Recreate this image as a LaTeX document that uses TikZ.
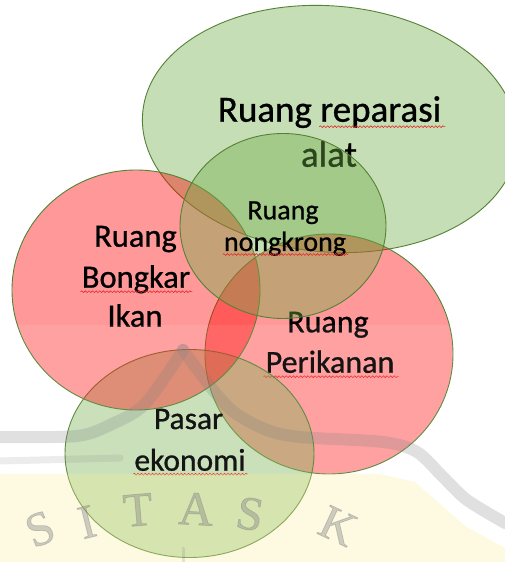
\documentclass[tikz,border=0pt]{standalone}
\usepackage{fontspec}
\setmainfont{Carlito}[FakeBold=0.8]
\newfontfamily\wmfont{Liberation Serif}[FakeBold=1.5]
\usetikzlibrary{shapes.geometric,decorations.pathmorphing}
\definecolor{gfill}{RGB}{112,173,71}
\definecolor{rfill}{RGB}{255,0,0}
\definecolor{edgecol}{RGB}{84,130,53}
\definecolor{squig}{RGB}{230,40,40}
\definecolor{wmgray}{RGB}{128,128,128}
\definecolor{wmyel}{RGB}{250,240,150}
\begin{document}
\begin{tikzpicture}[x=1pt,y=1pt,
  zone/.style={ellipse, draw=edgecol, line width=0.9pt, fill opacity=0.4, inner sep=0pt, outer sep=0pt},
  greenzone/.style={zone, fill=gfill},
  redzone/.style={zone, fill=rfill},
  lbl/.style={anchor=base, inner sep=0pt, text=black},
  squiggle/.style={draw=squig, line width=0.6pt, decorate, decoration={snake, amplitude=0.9pt, segment length=3.6pt}},
  wmband/.style={draw=wmgray, draw opacity=0.24, line cap=round, line join=round},
  wmletter/.style={text=wmgray, text opacity=0.38, font=\wmfont\fontsize{48}{52}\selectfont, inner sep=0pt}
]
\path[fill=white] (0,0) rectangle (505,562);
\useasboundingbox (0,0) rectangle (505,562);

% Ruang reparasi alat
\node[greenzone, minimum width=376pt, minimum height=246pt, rotate=-5] (rep) at (330,433) {};
\node[lbl, font=\fontsize{37}{44}\selectfont] (repA) at (329.5,440.3) {Ruang reparasi};
\node[lbl, font=\fontsize{37}{44}\selectfont] (repB) at (329,395.3) {alat};
\draw[squiggle] ([shift={(-122pt,-5pt)}]repA.base east) -- ([shift={(4pt,-5pt)}]repA.base east);

% Ruang Perikanan
\node[redzone, minimum width=248pt, minimum height=240pt] (per) at (329,208) {};
\node[lbl, font=\fontsize{32}{38}\selectfont] (perA) at (328,229.7) {Ruang};
\node[lbl, font=\fontsize{32}{38}\selectfont] (perB) at (330,189.3) {Perikanan};
\draw[squiggle] ([shift={(-2pt,-4pt)}]perB.base west) -- ([shift={(4pt,-4pt)}]perB.base east);

% Pasar ekonomi
\node[greenzone, minimum width=249pt, minimum height=208pt] (pas) at (189.5,108.5) {};
\node[lbl, font=\fontsize{31.5}{38}\selectfont] (pasA) at (188.5,133) {Pasar};
\node[lbl, font=\fontsize{31.5}{38}\selectfont] (pasB) at (190,91.3) {ekonomi};
\draw[squiggle] ([shift={(-1pt,-3.5pt)}]pasB.base west) -- ([shift={(2pt,-3.5pt)}]pasB.base east);

% Ruang Bongkar Ikan
\node[redzone, minimum width=248pt, minimum height=240pt] (bon) at (136,272) {};
\node[lbl, font=\fontsize{32.5}{38}\selectfont] (bonA) at (135.5,315.3) {Ruang};
\node[lbl, font=\fontsize{32.5}{38}\selectfont] (bonB) at (136,274.3) {Bongkar};
\node[lbl, font=\fontsize{32.5}{38}\selectfont] (bonC) at (135,235.3) {Ikan};
\draw[squiggle] ([shift={(-1pt,-4pt)}]bonB.base west) -- ([shift={(2pt,-4pt)}]bonB.base east);

% Ruang nongkrong
\node[greenzone, minimum width=206pt, minimum height=185pt] (non) at (283,336) {};
\node[lbl, font=\fontsize{28}{34}\selectfont] (nonA) at (283,342.7) {Ruang};
\node[lbl, font=\fontsize{28}{34}\selectfont] (nonB) at (285,311) {nongkrong};
\draw[squiggle] ([shift={(-1pt,-3.5pt)}]nonB.base west) -- ([shift={(2pt,-3.5pt)}]nonB.base east);

% watermark overlay
\fill[white, fill opacity=0.08] (0,0) rectangle (505,237);
\fill[wmyel, fill opacity=0.28] (0,0) -- (0,88) -- (380,88) -- (415,80) -- (440,58) -- (465,36) -- (505,14) -- (505,0) -- cycle;
\draw[wmband, line width=12pt] plot[smooth, tension=0.5] coordinates {(0,125) (77,126) (112,138) (145,158) (183,212)};
\draw[wmband, line width=12pt] plot[smooth, tension=0.5] coordinates {(183,212) (213,172) (235,149) (267,132) (300,125) (383,120) (417,110) (443,85) (467,62) (505,39)};
\draw[wmband, draw opacity=0.15, line width=7pt] (0,101) -- (120,104);
\draw[wmband, draw opacity=0.2, line width=3pt] (183,0) -- (183,14);
\node[wmletter, rotate=22] (wS1) at (40,33) {S};
\node[wmletter, rotate=14] (wI) at (87,40) {I};
\node[wmletter, rotate=5] (wT) at (138,52) {T};
\node[wmletter, rotate=-3] (wA) at (196,53) {A};
\node[wmletter, rotate=-10] (wS2) at (250,48) {S};
\node[wmletter, rotate=-25] (wK) at (338,36) {K};
\end{tikzpicture}
\end{document}
